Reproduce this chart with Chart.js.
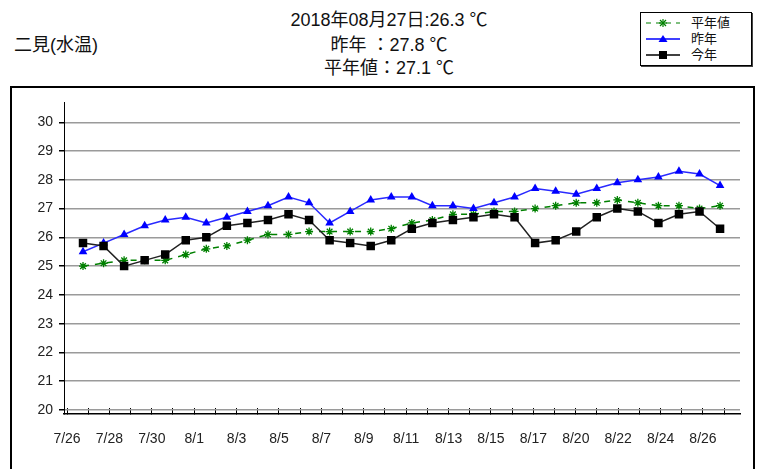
<!DOCTYPE html>
<html>
<head>
<meta charset="utf-8">
<script src="https://cdn.jsdelivr.net/npm/chart.js@4.4.0/dist/chart.umd.min.js"></script>
<style>
  body { margin: 0; background: #fff; }
  #wrap { position: relative; width: 765px; height: 469px; overflow: hidden;
          font-family: "Liberation Sans", "Noto Sans CJK JP", sans-serif; color: #111; }
  .title { position: absolute; left: 0; width: 778px; text-align: center; font-size: 18px; line-height: 24px; }
  #place { position: absolute; left: 14px; top: 33px; font-size: 18px; line-height: 24px; }
  #legend { position: absolute; left: 640px; top: 12px; width: 110px; height: 52px;
            border: 1.5px solid #000; box-shadow: 1px 1px 0 #444; background: #fff; }
  #legend .row { position: absolute; left: 4px; height: 16px; line-height: 16px; font-size: 13px; }
  #legend svg { position: absolute; left: 0; top: 2px; }
  #legend span { position: absolute; left: 46px; top: 0; white-space: nowrap; }
  #frame { position: absolute; left: 10px; top: 86px; width: 745px; height: 400px;
           border: 2px solid #000; box-sizing: border-box; }
  #chart { position: absolute; left: 0; top: 0; }
</style>
</head>
<body>
<div id="wrap">
  <div class="title" style="top:8px">2018年08月27日:26.3 ℃</div>
  <div class="title" style="top:33px">昨年 ：27.8 ℃</div>
  <div class="title" style="top:56px">平年値：27.1 ℃</div>
  <div id="place">二見(水温)</div>
  <div id="legend">
    <div class="row" style="top:2px">
      <svg width="36" height="12"><line x1="1" y1="6" x2="35" y2="6" stroke="#008000" stroke-width="1.2" stroke-dasharray="5,5"/>
        <g stroke="#008000" stroke-width="1.2"><line x1="14" y1="6" x2="22" y2="6"/><line x1="18" y1="2" x2="18" y2="10"/><line x1="15" y1="3" x2="21" y2="9"/><line x1="21" y1="3" x2="15" y2="9"/></g></svg>
      <span>平年値</span>
    </div>
    <div class="row" style="top:18px">
      <svg width="36" height="12"><line x1="1" y1="6" x2="35" y2="6" stroke="#0000ff" stroke-width="1.5"/><polygon points="18,2 22.5,9 13.5,9" fill="#0000ff"/></svg>
      <span>昨年</span>
    </div>
    <div class="row" style="top:34px">
      <svg width="36" height="12"><line x1="1" y1="6" x2="35" y2="6" stroke="#000" stroke-width="1.5"/><rect x="14" y="2" width="8" height="8" fill="#000"/></svg>
      <span>今年</span>
    </div>
  </div>
  <div id="frame">
    <canvas id="chart" width="741" height="381"></canvas>
  </div>
</div>
<script>
// dates on the x axis (8/19 is missing in the source)
const dates = ['7/26','7/27','7/28','7/29','7/30','7/31','8/1','8/2','8/3','8/4','8/5','8/6','8/7','8/8','8/9','8/10',
               '8/11','8/12','8/13','8/14','8/15','8/16','8/17','8/18','8/20','8/21','8/22','8/23','8/24','8/25','8/26','8/27'];
const tickLabels = ['7/26','7/28','7/30','8/1','8/3','8/5','8/7','8/9','8/11','8/13','8/15','8/17','8/20','8/22','8/24','8/26'];
const yTicks = [20, 21, 22, 23, 24, 25, 26, 27, 28, 29, 30];

// water temperature
const heinen = [25.0,25.1,25.2,25.2,25.2,25.4,25.6,25.7,25.9,26.1,26.1,26.2,26.2,26.2,26.2,26.3,
                26.5,26.6,26.8,26.8,26.9,26.9,27.0,27.1,27.2,27.2,27.3,27.2,27.1,27.1,27.0,27.1];
const sakunen = [25.5,25.8,26.1,26.4,26.6,26.7,26.5,26.7,26.9,27.1,27.4,27.2,26.5,26.9,27.3,27.4,
                 27.4,27.1,27.1,27.0,27.2,27.4,27.7,27.6,27.5,27.7,27.9,28.0,28.1,28.3,28.2,27.8];
const konnen = [25.8,25.7,25.0,25.2,25.4,25.9,26.0,26.4,26.5,26.6,26.8,26.6,25.9,25.8,25.7,25.9,
                26.3,26.5,26.6,26.7,26.8,26.7,25.8,25.9,26.2,26.7,27.0,26.9,26.5,26.8,26.9,26.3];

const pts = arr => arr.map((v, i) => ({ x: i, y: v }));
const tickFont = { family: '"Liberation Sans", sans-serif', size: 14 };

new Chart(document.getElementById('chart'), {
    type: 'line',
    data: {
        datasets: [
            {
                label: '今年', data: pts(konnen), xAxisID: 'xd', order: 0,
                borderColor: '#222', borderWidth: 1.5,
                pointStyle: 'rect', pointRadius: 6, pointBackgroundColor: '#000', pointBorderColor: '#000', pointBorderWidth: 0
            },
            {
                label: '昨年', data: pts(sakunen), xAxisID: 'xd', order: 1,
                borderColor: '#2a2aff', borderWidth: 1.5,
                pointStyle: 'triangle', pointRadius: 5, pointBackgroundColor: '#0000ff', pointBorderColor: '#0000ff', pointBorderWidth: 0
            },
            {
                label: '平年値', data: pts(heinen), xAxisID: 'xd', order: 2,
                borderColor: '#008000', borderWidth: 1.5, borderDash: [6, 6],
                pointStyle: 'star', pointRadius: 4, pointBorderColor: '#008000', pointBorderWidth: 1.3, pointBackgroundColor: '#008000'
            }
        ]
    },
    options: {
        responsive: false,
        animation: false,
        layout: { padding: { top: 12, right: 13, left: 0, bottom: 0 } },
        plugins: { legend: { display: false }, tooltip: { enabled: false } },
        scales: {
            x: {
                type: 'linear', position: 'bottom', min: -0.0708, max: 15.873,
                afterBuildTicks: s => {
                    s.ticks = [];
                    for (let v = 0; v <= 15.5; v += 0.5) s.ticks.push({ value: v });
                },
                afterFit: s => { s.height = 55; },
                ticks: {
                    autoSkip: false, maxRotation: 0, padding: 23, color: '#222', font: tickFont,
                    callback: v => Number.isInteger(v) ? tickLabels[v] : ''
                },
                grid: { drawOnChartArea: false, drawTicks: true, tickLength: -6, tickColor: '#000' },
                border: { color: '#000', width: 1.5 }
            },
            xd: { type: 'linear', display: false, min: -0.925, max: 31.97 },
            y: {
                min: 19.86, max: 30.69,
                afterBuildTicks: s => { s.ticks = yTicks.map(v => ({ value: v })); },
                afterFit: s => { s.width = 52; },
                ticks: { padding: 6, color: '#222', font: tickFont },
                grid: { color: '#9a9a9a', lineWidth: 1.5, tickLength: 5, tickColor: '#000' },
                border: { color: '#000', width: 1 }
            }
        }
    }
});
</script>
</body>
</html>
